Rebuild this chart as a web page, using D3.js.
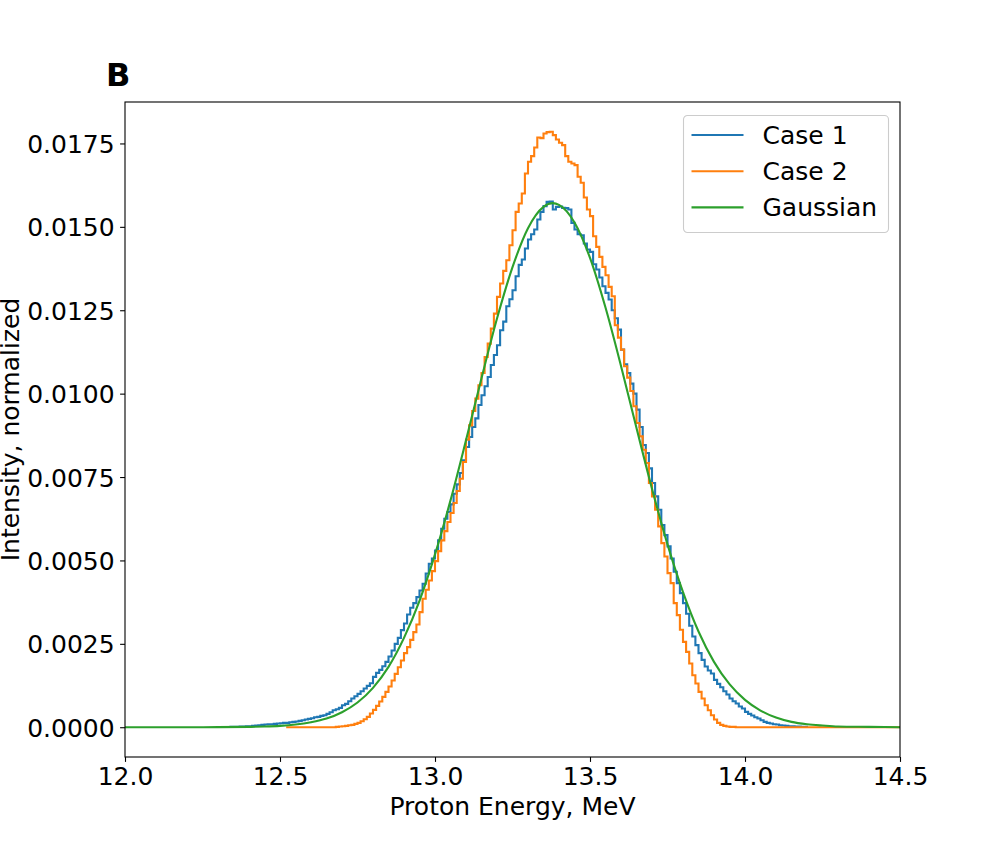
<!DOCTYPE html>
<html lang="en">
<head>
    <meta charset="UTF-8">
    <title>Proton energy spectrum</title>
    <script src="https://d3js.org/d3.v7.min.js"></script>
    <style>
        body { margin: 0; background: #fff; }
        text { font-family: "DejaVu Sans", sans-serif; fill: #000; }
    </style>
</head>
<body>
    <svg id="chart" width="1000" height="850"></svg>

    <script>
        // histogram bins are 0.01 MeV wide
        const binWidth = 0.01;

        const case1Start = 12.34;
        const case1Values = [
            0.00001, 0.00001, 0.00001, 0.00002, 0.00002, 0.00003, 0.00003, 0.00004, 0.00005, 0.00006,
            0.00007, 0.00008, 0.00009, 0.00009, 0.00010, 0.00011, 0.00012, 0.00013, 0.00013, 0.00015,
            0.00016, 0.00017, 0.00019, 0.00021, 0.00023, 0.00025, 0.00027, 0.00030, 0.00031, 0.00034,
            0.00036, 0.00040, 0.00045, 0.00051, 0.00054, 0.00058, 0.00066, 0.00070, 0.00078, 0.00086,
            0.00093, 0.00100, 0.00108, 0.00116, 0.00124, 0.00132, 0.00151, 0.00163, 0.00172, 0.00183,
            0.00196, 0.00212, 0.00230, 0.00250, 0.00268, 0.00291, 0.00311, 0.00338, 0.00358, 0.00372,
            0.00390, 0.00410, 0.00430, 0.00461, 0.00490, 0.00506, 0.00530, 0.00560, 0.00595, 0.00625,
            0.00645, 0.00668, 0.00700, 0.00728, 0.00762, 0.00800, 0.00840, 0.00870, 0.00900, 0.00926,
            0.00966, 0.00995, 0.01022, 0.01050, 0.01086, 0.01116, 0.01145, 0.01190, 0.01216, 0.01262,
            0.01283, 0.01310, 0.01352, 0.01386, 0.01402, 0.01435, 0.01462, 0.01478, 0.01492, 0.01522,
            0.01545, 0.01562, 0.01575, 0.01576, 0.01552, 0.01560, 0.01561, 0.01557, 0.01556, 0.01552,
            0.01512, 0.01492, 0.01478, 0.01475, 0.01450, 0.01432, 0.01425, 0.01388, 0.01372, 0.01348,
            0.01322, 0.01302, 0.01282, 0.01250, 0.01226, 0.01192, 0.01132, 0.01088, 0.01062, 0.01030,
            0.01000, 0.00952, 0.00900, 0.00846, 0.00822, 0.00776, 0.00732, 0.00692, 0.00652, 0.00606,
            0.00576, 0.00542, 0.00506, 0.00466, 0.00432, 0.00402, 0.00372, 0.00340, 0.00304, 0.00272,
            0.00246, 0.00222, 0.00202, 0.00182, 0.00170, 0.00161, 0.00142, 0.00130, 0.00120, 0.00108,
            0.00098, 0.00086, 0.00078, 0.00071, 0.00062, 0.00056, 0.00046, 0.00040, 0.00035, 0.00030,
            0.00026, 0.00021, 0.00016, 0.00013, 0.00011, 0.00009, 0.00008, 0.00006, 0.00005, 0.00004,
            0.00003, 0.00003, 0.00002, 0.00002, 0.00001, 0.00001
        ];

        const case2Start = 12.52;
        const case2Values = [
            0, 0, 0, 0, 0, 0, 0, 0, 0, 0,
            0, 0, 0, 0, 0, 0,
            0.00001, 0.00002, 0.00003, 0.00004, 0.00006, 0.00007, 0.00010, 0.00013, 0.00018, 0.00024,
            0.00031, 0.00041, 0.00052, 0.00064, 0.00077, 0.00091, 0.00106, 0.00122, 0.00140, 0.00160,
            0.00180, 0.00200, 0.00222, 0.00240, 0.00262, 0.00285, 0.00308, 0.00345, 0.00385, 0.00412,
            0.00440, 0.00468, 0.00498, 0.00528, 0.00560, 0.00588, 0.00615, 0.00642, 0.00672, 0.00708,
            0.00745, 0.00795, 0.00862, 0.00905, 0.00948, 0.00985, 0.01025, 0.01062, 0.01110, 0.01150,
            0.01195, 0.01240, 0.01290, 0.01330, 0.01368, 0.01400, 0.01445, 0.01490, 0.01545, 0.01570,
            0.01600, 0.01660, 0.01695, 0.01712, 0.01738, 0.01768, 0.01766, 0.01780, 0.01784, 0.01785,
            0.01775, 0.01762, 0.01752, 0.01745, 0.01712, 0.01695, 0.01690, 0.01685, 0.01650, 0.01632,
            0.01588, 0.01552, 0.01532, 0.01472, 0.01440, 0.01410, 0.01380, 0.01355, 0.01320, 0.01292,
            0.01205, 0.01168, 0.01132, 0.01082, 0.01048, 0.01008, 0.00962, 0.00912, 0.00872, 0.00832,
            0.00792, 0.00732, 0.00692, 0.00652, 0.00602, 0.00552, 0.00512, 0.00462, 0.00432, 0.00372,
            0.00336, 0.00292, 0.00256, 0.00226, 0.00191, 0.00156, 0.00131, 0.00106, 0.00086, 0.00066,
            0.00051, 0.00036, 0.00023, 0.00013, 0.00007, 0.00004, 0.00002, 0.00001, 0.00001, 0,
            0, 0, 0, 0, 0, 0, 0, 0, 0, 0,
            0, 0, 0, 0, 0, 0, 0, 0, 0, 0,
            0, 0, 0, 0, 0, 0, 0, 0, 0, 0,
            0, 0, 0, 0, 0, 0, 0, 0, 0, 0,
            0, 0, 0, 0, 0, 0, 0, 0, 0, 0,
            0, 0, 0
        ];

        const gaussEnergy = [
            12.0, 12.2, 12.3, 12.4, 12.45, 12.5, 12.55, 12.6, 12.65, 12.7,
            12.75, 12.8, 12.85, 12.9, 12.95, 13.0, 13.05, 13.1, 13.15, 13.2,
            13.25, 13.3, 13.35, 13.38, 13.4, 13.45, 13.5, 13.55, 13.6, 13.65,
            13.7, 13.75, 13.8, 13.85, 13.9, 13.95, 14.0, 14.05, 14.1, 14.15,
            14.2, 14.25, 14.3, 14.4, 14.5
        ];
        const gaussValues = [
            0, 0, 0.000002, 0.00001, 0.00002, 0.00004, 0.00008, 0.00015, 0.00026, 0.00045,
            0.00074, 0.00118, 0.00181, 0.00268, 0.00379, 0.00518, 0.00680, 0.00860, 0.01046, 0.01225,
            0.01379, 0.01496, 0.01560, 0.01571, 0.01566, 0.01513, 0.01407, 0.01258, 0.01083, 0.00897,
            0.00715, 0.00548, 0.00405, 0.00287, 0.00196, 0.00129, 0.00082, 0.00050, 0.00029, 0.00016,
            0.00009, 0.00005, 0.00002, 0.00001, 0
        ];

        const xTicks = [12.0, 12.5, 13.0, 13.5, 14.0, 14.5];
        const yTicks = [0, 0.0025, 0.005, 0.0075, 0.01, 0.0125, 0.015, 0.0175];
        const seriesNames = ["Case 1", "Case 2", "Gaussian"];
        const colors = ["#1f77b4", "#ff7f0e", "#2ca02c"];

        const margin = { top: 102, right: 100, bottom: 93, left: 125 };
        const width = 1000 - margin.left - margin.right;
        const height = 850 - margin.top - margin.bottom;

        const svg = d3.select("#chart");
        const g = svg.append("g")
            .attr("transform", "translate(" + margin.left + "," + margin.top + ")");

        const yMax = d3.max(case2Values);
        const x = d3.scaleLinear().domain([12.0, 14.5]).range([0, width]);
        const y = d3.scaleLinear().domain([-0.05 * yMax, yMax * 1.05]).range([height, 0]);

        g.append("clipPath").attr("id", "clip")
            .append("rect").attr("width", width).attr("height", height);

        // step outline like matplotlib histtype='step'
        function stepPoints(start, values) {
            const pts = [[start, 0]];
            values.forEach(function(v, i) { pts.push([start + i * binWidth, v]); });
            pts.push([start + values.length * binWidth, 0]);
            return pts;
        }

        const stepLine = d3.line()
            .x(function(d) { return x(d[0]); })
            .y(function(d) { return y(d[1]); })
            .curve(d3.curveStepAfter);

        const plot = g.append("g").attr("clip-path", "url(#clip)");

        plot.append("path")
            .datum(stepPoints(case1Start, case1Values))
            .attr("d", stepLine)
            .attr("fill", "none")
            .attr("stroke", colors[0])
            .attr("stroke-width", 2.1);

        plot.append("path")
            .datum(stepPoints(case2Start, case2Values))
            .attr("d", stepLine)
            .attr("fill", "none")
            .attr("stroke", colors[1])
            .attr("stroke-width", 2.1);

        const gaussLine = d3.line()
            .x(function(d, i) { return x(gaussEnergy[i]); })
            .y(function(d) { return y(d); })
            .curve(d3.curveMonotoneX);

        plot.append("path")
            .datum(gaussValues)
            .attr("d", gaussLine)
            .attr("fill", "none")
            .attr("stroke", colors[2])
            .attr("stroke-width", 2.1);

        // axes
        const xAxis = g.append("g")
            .attr("transform", "translate(0," + height + ")")
            .call(d3.axisBottom(x).tickValues(xTicks).tickFormat(d3.format(".1f"))
                .tickSize(4.9).tickPadding(4.5));
        const yAxis = g.append("g")
            .call(d3.axisLeft(y).tickValues(yTicks).tickFormat(d3.format(".4f"))
                .tickSize(4.9).tickPadding(5.5));

        [xAxis, yAxis].forEach(function(ax) {
            ax.select(".domain").remove();
            ax.selectAll("line").attr("stroke", "#000").attr("stroke-width", 1.1);
            ax.selectAll("text").style("font-size", "25px").attr("fill", "#000");
        });
        yAxis.selectAll("text").attr("dy", "0.36em");
        xAxis.selectAll("text").attr("dy", "0.73em");

        g.append("rect")
            .attr("width", width).attr("height", height)
            .attr("fill", "none").attr("stroke", "#000").attr("stroke-width", 1.1);

        g.append("text")
            .attr("x", width / 2)
            .attr("y", height + 58)
            .style("text-anchor", "middle")
            .style("font-size", "25px")
            .text("Proton Energy, MeV");

        svg.append("text")
            .attr("transform", "rotate(-90)")
            .attr("x", -(margin.top + height / 2))
            .attr("y", 18.5)
            .style("text-anchor", "middle")
            .style("font-size", "25px")
            .text("Intensity, normalized");

        svg.append("text")
            .attr("x", 106)
            .attr("y", 86)
            .style("font-size", "32px")
            .style("font-weight", "bold")
            .text("B");

        // legend
        const legend = svg.append("g").attr("transform", "translate(683.5,115.5)");
        legend.append("rect")
            .attr("width", 205).attr("height", 117).attr("rx", 4)
            .attr("fill", "#fff").attr("fill-opacity", 0.8)
            .attr("stroke", "#cccccc").attr("stroke-width", 1.1);

        seriesNames.forEach(function(name, i) {
            const ly = 19.5 + i * 36.2;
            legend.append("line")
                .attr("x1", 8).attr("x2", 60)
                .attr("y1", ly).attr("y2", ly)
                .attr("stroke", colors[i]).attr("stroke-width", 2.1);
            legend.append("text")
                .attr("x", 79).attr("y", ly + 9)
                .style("font-size", "25px")
                .text(name);
        });
    </script>
</body>
</html>
